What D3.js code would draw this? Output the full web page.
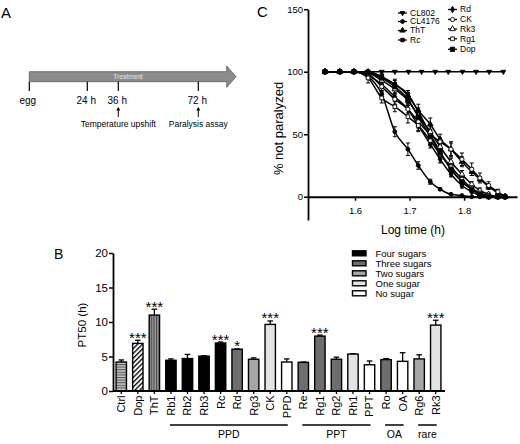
<!DOCTYPE html>
<html><head><meta charset="utf-8">
<script src="https://cdn.jsdelivr.net/npm/d3@7"></script>
<style>
html,body{margin:0;padding:0;background:#fff;}
svg{display:block;font-family:"Liberation Sans",Arial,sans-serif;}
</style></head>
<body><svg id="fig" width="520" height="444"></svg>
<script>
// ---------- Panel A data ----------
const timelineHours = [0, 24, 36, 72];
const timelineLabels = ["egg", "24 h", "36 h", "72 h"];
const timelineEvents = [{h: 36, text: "Temperature upshift"}, {h: 72, text: "Paralysis assay"}];

// ---------- Panel B data ----------
const categories = ["Ctrl","Dop","ThT","Rb1","Rb2","Rb3","Rc","Rd","Rg3","CK","PPD","Re","Rg1","Rg2","Rh1","PPT","Ro","OA","Rg6","Rk3"];
const pt50 = [4.2, 6.9, 11.0, 4.45, 4.7, 5.05, 6.95, 6.05, 4.6, 9.65, 4.2, 4.15, 7.95, 4.6, 5.35, 3.8, 4.55, 4.3, 4.65, 9.55];
const pt50Err = [0.3, 0.45, 0.85, 0.2, 0.6, 0.05, 0.15, 0.05, 0.2, 0.5, 0.45, 0.05, 0.15, 0.3, 0.05, 0.55, 0.15, 1.25, 0.6, 0.7];
const fillKind = ["hstripe","diag","vstripe","four","four","four","four","three","two","one","none","three","three","three","one","none","three","none","two","one"];
const signif = ["","***","***","","","","***","*","","***","","","***","","","","","","","***"];
const groupNames = ["PPD","PPT","OA","rare"];
const groupFrom = ["Rb1","Re","Ro","Rg6"];
const groupTo = ["PPD","PPT","OA","Rk3"];
const legendKinds = ["four","three","two","one","none"];
const legendLabels = ["Four sugars","Three sugars","Two sugars","One sugar","No sugar"];
const bTicks = [0, 5, 10, 15, 20];

// ---------- Panel C data ----------
const logTime = [1.545, 1.572, 1.598, 1.624, 1.649, 1.673, 1.697, 1.716, 1.738, 1.756, 1.776, 1.796, 1.814, 1.829, 1.845, 1.862, 1.875];
const logTimeCL802 = [1.545, 1.572, 1.598, 1.623, 1.649, 1.673, 1.698, 1.722, 1.747, 1.771, 1.797, 1.822, 1.846, 1.872];
const valCL802 = [100,100,100,100,100,100,100,100,100,100,100,100,100,100];
const valCL4176 = [100,100,100,96,82,52,38,25,12,6,2,1,0,0,0,0,0];
const valThT = [100,100,100,100,95,90,81,69,58,46,38,28,20,14,8,3,0];
const valRc = [100,100,100,100,96,90,82,68,50,36,22,12,6,2,0,0,0];
const valRd = [100,100,100,97,90,80,70,57,42,30,18,9,4,1,0,0,0];
const valCK = [100,100,100,98,88,78,70,60,50,44,38,30,22,15,9,4,0];
const valRk3 = [100,100,100,99,93,86,77,65,52,40,28,18,10,5,2,0,0];
const valRg1 = [100,100,100,95,79,72,64,57,45,34,24,14,7,3,1,0,0];
const valDop = [100,100,100,99,95,88,78,64,48,35,22,12,6,2,0,0,0];
const errCL4176 = [0,0,0,2,3,4,5,3,2,1,0,0,0,0,0,0,0];
const errThT = [0,0,0,0,3,4,4,5,5,4,5,4,3,2,2,1,0];
const errRc = [0,0,0,0,2,3,3,3,3,3,3,2,2,1,0,0,0];
const errRd = [0,0,0,3,3,3,3,4,3,3,2,2,1,1,0,0,0];
const errCK = [0,0,0,2,4,4,5,5,4,3,6,5,5,4,3,2,0];
const errRk3 = [0,0,0,2,3,3,3,4,4,3,3,3,2,2,1,0,0];
const errRg1 = [0,0,0,4,4,4,5,5,4,4,3,2,2,1,1,0,0];
const errDop = [0,0,0,2,3,3,3,3,3,3,2,2,1,1,0,0,0];
const cTicksX = [1.6, 1.7, 1.8];
const cTicksY = [0, 50, 100, 150];

const svg = d3.select("#fig");
const FONT = '"Liberation Sans",Arial,sans-serif';

// ================= Panel A =================
svg.append("text").attr("x", 1).attr("y", 18).attr("font-size", 15).text("A");
const xA = d3.scaleLinear().domain(timelineHours).range([29.3, 87.3, 118.3, 198.3]);
const gA = svg.append("g");
const arrowPath = d3.path();
arrowPath.moveTo(xA(0), 71.7); arrowPath.lineTo(226.7, 71.7); arrowPath.lineTo(226.7, 66);
arrowPath.lineTo(236, 76.7); arrowPath.lineTo(226.7, 87.3); arrowPath.lineTo(226.7, 81.7);
arrowPath.lineTo(xA(0), 81.7); arrowPath.closePath();
gA.append("path").attr("d", arrowPath.toString()).attr("fill", "#8c8c8c").attr("stroke", "#5a5a5a").attr("stroke-width", 0.8);
gA.append("text").attr("x", 128).attr("y", 79).attr("font-size", 6.5).attr("fill", "#e6e6e6").attr("text-anchor", "middle").text("Treatment");
gA.selectAll("line.tk").data(timelineHours).join("line")
  .attr("x1", d => xA(d)).attr("x2", d => xA(d)).attr("y1", 81.7).attr("y2", 91)
  .attr("stroke", "#000").attr("stroke-width", 1.2);
gA.selectAll("text.tl").data(timelineHours).join("text")
  .attr("x", d => xA(d) - (d === 0 ? 1.5 : 1)).attr("y", 104.3).attr("font-size", 10).attr("text-anchor", "middle")
  .text((d, i) => timelineLabels[i]);
timelineEvents.forEach(ev => {
  const x = xA(ev.h);
  gA.append("line").attr("x1", x).attr("x2", x).attr("y1", 117).attr("y2", 109.5).attr("stroke", "#000").attr("stroke-width", 1);
  gA.append("path").attr("d", `M${x - 2},${110.5}L${x},${107}L${x + 2},${110.5}Z`).attr("fill", "#000");
  gA.append("text").attr("x", x).attr("y", 126.5).attr("font-size", 8.5).attr("text-anchor", "middle").text(ev.text);
});

// ================= Panel B =================
svg.append("text").attr("x", 54).attr("y", 258.5).attr("font-size", 14).text("B");
const defs = svg.append("defs");
const ph = defs.append("pattern").attr("id", "hstripe").attr("patternUnits", "userSpaceOnUse").attr("width", 4).attr("height", 2.6);
ph.append("rect").attr("width", 4).attr("height", 2.6).attr("fill", "#c4c4c4");
ph.append("rect").attr("width", 4).attr("height", 1.1).attr("fill", "#5a5a5a");
const pd = defs.append("pattern").attr("id", "diag").attr("patternUnits", "userSpaceOnUse").attr("width", 3.4).attr("height", 3.4).attr("patternTransform", "rotate(45)");
pd.append("rect").attr("width", 3.4).attr("height", 3.4).attr("fill", "#fff");
pd.append("rect").attr("width", 1.3).attr("height", 3.4).attr("fill", "#000");
const pv = defs.append("pattern").attr("id", "vstripe").attr("patternUnits", "userSpaceOnUse").attr("width", 2.6).attr("height", 4);
pv.append("rect").attr("width", 2.6).attr("height", 4).attr("fill", "#9a9a9a");
pv.append("rect").attr("width", 1.1).attr("height", 4).attr("fill", "#4a4a4a");

const fillOf = {hstripe: "url(#hstripe)", diag: "url(#diag)", vstripe: "url(#vstripe)",
  four: "#000", three: "#6e6e6e", two: "#a6a6a6", one: "#e3e3e3", none: "#fff"};

const xB = d3.scaleBand().domain(categories).range([113, 444]).paddingInner(0.3).paddingOuter(0.15);
const yB = d3.scaleLinear().domain([0, 20]).range([391, 253]);
const gB = svg.append("g");

// error bars
gB.selectAll("g.eb").data(categories).join("g").each(function (c, i) {
  const g = d3.select(this), cx = xB(c) + xB.bandwidth() / 2;
  const yt = yB(pt50[i] + pt50Err[i]);
  g.append("line").attr("x1", cx).attr("x2", cx).attr("y1", yB(pt50[i])).attr("y2", yt).attr("stroke", "#000").attr("stroke-width", 1.3);
  g.append("line").attr("x1", cx - 2.8).attr("x2", cx + 2.8).attr("y1", yt).attr("y2", yt).attr("stroke", "#000").attr("stroke-width", 1.3);
});
// bars
gB.selectAll("rect.bar").data(categories).join("rect")
  .attr("x", c => xB(c) + 0.6).attr("width", xB.bandwidth() - 1.2)
  .attr("y", (c, i) => yB(pt50[i])).attr("height", (c, i) => yB(0) - yB(pt50[i]))
  .attr("fill", (c, i) => fillOf[fillKind[i]]).attr("stroke", "#000").attr("stroke-width", 1.4);
// significance
gB.selectAll("text.sig").data(categories).join("text")
  .attr("x", c => xB(c) + xB.bandwidth() / 2).attr("y", (c, i) => yB(pt50[i] + pt50Err[i]) + 2.5)
  .attr("font-size", 15).attr("text-anchor", "middle").text((c, i) => signif[i]);
// axes
const axYB = d3.axisLeft(yB).tickValues(bTicks).tickSize(4).tickSizeOuter(0);
const gyB = gB.append("g").attr("transform", "translate(113,0)").call(axYB);
gyB.select(".domain").attr("stroke-width", 1.8);
gyB.selectAll(".tick line").attr("stroke-width", 1.5);
gyB.selectAll(".tick text").attr("font-size", 11.5).attr("font-family", FONT).attr("fill", "#000").attr("x", -5);
const axXB = d3.axisBottom(xB).tickSize(3).tickSizeOuter(0);
const gxB = gB.append("g").attr("transform", "translate(0,391)").call(axXB);
gxB.select(".domain").attr("stroke-width", 1.8).attr("d", "M113,0H445");
gxB.selectAll(".tick line").attr("stroke-width", 1.3);
gxB.selectAll(".tick text").attr("font-size", 11).attr("font-family", FONT).attr("fill", "#000")
  .attr("text-anchor", "end").attr("transform", "rotate(-90)").attr("x", -4.5).attr("y", 0).attr("dy", "0.36em");
gB.append("text").attr("transform", "translate(86,325) rotate(-90)").attr("font-size", 11.5).attr("text-anchor", "middle").text("PT50 (h)");
// groups
groupNames.forEach((n, i) => {
  const x1 = xB(groupFrom[i]) + xB.bandwidth() / 2 - 1, x2 = xB(groupTo[i]) + xB.bandwidth() / 2 + 1;
  gB.append("line").attr("x1", x1).attr("x2", x2).attr("y1", 425).attr("y2", 425).attr("stroke", "#000").attr("stroke-width", 1.5);
  gB.append("text").attr("x", (x1 + x2) / 2).attr("y", 438).attr("font-size", 10.5).attr("text-anchor", "middle").text(n);
});
// legend
const legB = gB.append("g");
legendKinds.forEach((k, i) => {
  const yy = 253.3 + i * 10;
  legB.append("rect").attr("x", 352.5).attr("y", yy - 2.5).attr("width", 13.5).attr("height", 5)
    .attr("fill", fillOf[k]).attr("stroke", "#000").attr("stroke-width", 1.4);
  legB.append("text").attr("x", 375.5).attr("y", yy).attr("dy", "0.35em").attr("font-size", 9.5).text(legendLabels[i]);
});

// ================= Panel C =================
svg.append("text").attr("x", 257).attr("y", 17).attr("font-size", 15).text("C");
const xC = d3.scaleLinear().domain([1.5138, 1.897]).range([308, 517]);
const yC = d3.scaleLinear().domain([-18.6, 150]).range([220, 9.2]);
const gC = svg.append("g");

const seriesC = [
  {name: "CL802", x: logTimeCL802, v: valCL802, e: null, sym: d3.symbolTriangle, rot: 180, fill: "#000", size: 10},
  {name: "CL4176", x: logTime, v: valCL4176, e: errCL4176, sym: d3.symbolCircle, rot: 0, fill: "#000", size: 12},
  {name: "ThT", x: logTime, v: valThT, e: errThT, sym: d3.symbolTriangle, rot: 0, fill: "#000", size: 13},
  {name: "Rc", x: logTime, v: valRc, e: errRc, sym: d3.symbolSquare, rot: 0, fill: "#000", size: 12},
  {name: "Rd", x: logTime, v: valRd, e: errRd, sym: d3.symbolDiamond, rot: 0, fill: "#000", size: 12},
  {name: "CK", x: logTime, v: valCK, e: errCK, sym: d3.symbolCircle, rot: 0, fill: "#fff", size: 14},
  {name: "Rk3", x: logTime, v: valRk3, e: errRk3, sym: d3.symbolTriangle, rot: 0, fill: "#fff", size: 14},
  {name: "Rg1", x: logTime, v: valRg1, e: errRg1, sym: d3.symbolSquare, rot: 0, fill: "#fff", size: 14},
  {name: "Dop", x: logTime, v: valDop, e: errDop, sym: d3.symbolSquare, rot: 0, fill: "#000", size: 18}
];

const lineC = d3.line().x(d => xC(d[0])).y(d => yC(d[1])).curve(d3.curveMonotoneX);
seriesC.forEach(s => {
  const pts = s.x.map((t, i) => [t, s.v[i]]);
  gC.append("path").attr("d", lineC(pts)).attr("fill", "none").attr("stroke", "#000").attr("stroke-width", 1.5);
});
seriesC.forEach(s => {
  if (!s.e) return;
  s.x.forEach((t, i) => {
    if (!s.e[i]) return;
    const cx = xC(t), y1 = yC(s.v[i] - s.e[i]), y2 = yC(s.v[i] + s.e[i]);
    gC.append("line").attr("x1", cx).attr("x2", cx).attr("y1", y1).attr("y2", y2).attr("stroke", "#000").attr("stroke-width", 1);
    [y1, y2].forEach(yy => gC.append("line").attr("x1", cx - 2).attr("x2", cx + 2).attr("y1", yy).attr("y2", yy).attr("stroke", "#000").attr("stroke-width", 1));
  });
});
seriesC.forEach(s => {
  const sym = d3.symbol().type(s.sym).size(s.size);
  s.x.forEach((t, i) => {
    gC.append("path").attr("d", sym()).attr("transform", `translate(${xC(t)},${yC(s.v[i])}) rotate(${s.rot})`)
      .attr("fill", s.fill).attr("stroke", "#000").attr("stroke-width", 0.9);
  });
});
// axes C
const axYC = d3.axisLeft(yC).tickValues(cTicksY).tickSize(4).tickSizeOuter(0);
const gyC = gC.append("g").attr("transform", "translate(308,0)").call(axYC);
gyC.select(".domain").attr("stroke-width", 1.8);
gyC.selectAll(".tick line").attr("stroke-width", 1.5);
gyC.selectAll(".tick text").attr("font-size", 9.5).attr("font-family", FONT).attr("fill", "#000").attr("x", -5);
const axXC = d3.axisBottom(xC).tickValues(cTicksX).tickFormat(d3.format(".1f")).tickSize(4).tickSizeOuter(0);
const gxC = gC.append("g").attr("transform", `translate(0,${yC(0)})`).call(axXC);
gxC.select(".domain").attr("stroke-width", 1.8);
gxC.selectAll(".tick line").attr("stroke-width", 1.5);
gxC.selectAll(".tick text").attr("font-size", 9.5).attr("font-family", FONT).attr("fill", "#000").attr("y", 11);
gC.append("text").attr("x", 413).attr("y", 234).attr("font-size", 12).attr("text-anchor", "middle").text("Log time (h)");
gC.append("text").attr("transform", "translate(283,128.5) rotate(-90)").attr("font-size", 13).attr("text-anchor", "middle").text("% not paralyzed");
// legend C
const legCol = [0, 0, 0, 0, 1, 1, 1, 1, 1];
const legRowY = [13, 21.5, 30.5, 40, 9.5, 19.5, 29, 38.8, 49.3];
const legXs = [398, 448];
seriesC.forEach((s, i) => {
  const x0 = legXs[legCol[i]], yy = legRowY[i];
  gC.append("line").attr("x1", x0).attr("x2", x0 + 9).attr("y1", yy).attr("y2", yy).attr("stroke", "#000").attr("stroke-width", 1.3);
  gC.append("path").attr("d", d3.symbol().type(s.sym).size(s.size)()).attr("transform", `translate(${x0 + 4.5},${yy}) rotate(${s.rot})`)
    .attr("fill", s.fill).attr("stroke", "#000").attr("stroke-width", 0.9);
  gC.append("text").attr("x", x0 + 12).attr("y", yy).attr("dy", "0.35em").attr("font-size", 8.5).text(s.name);
});
</script></body></html>
